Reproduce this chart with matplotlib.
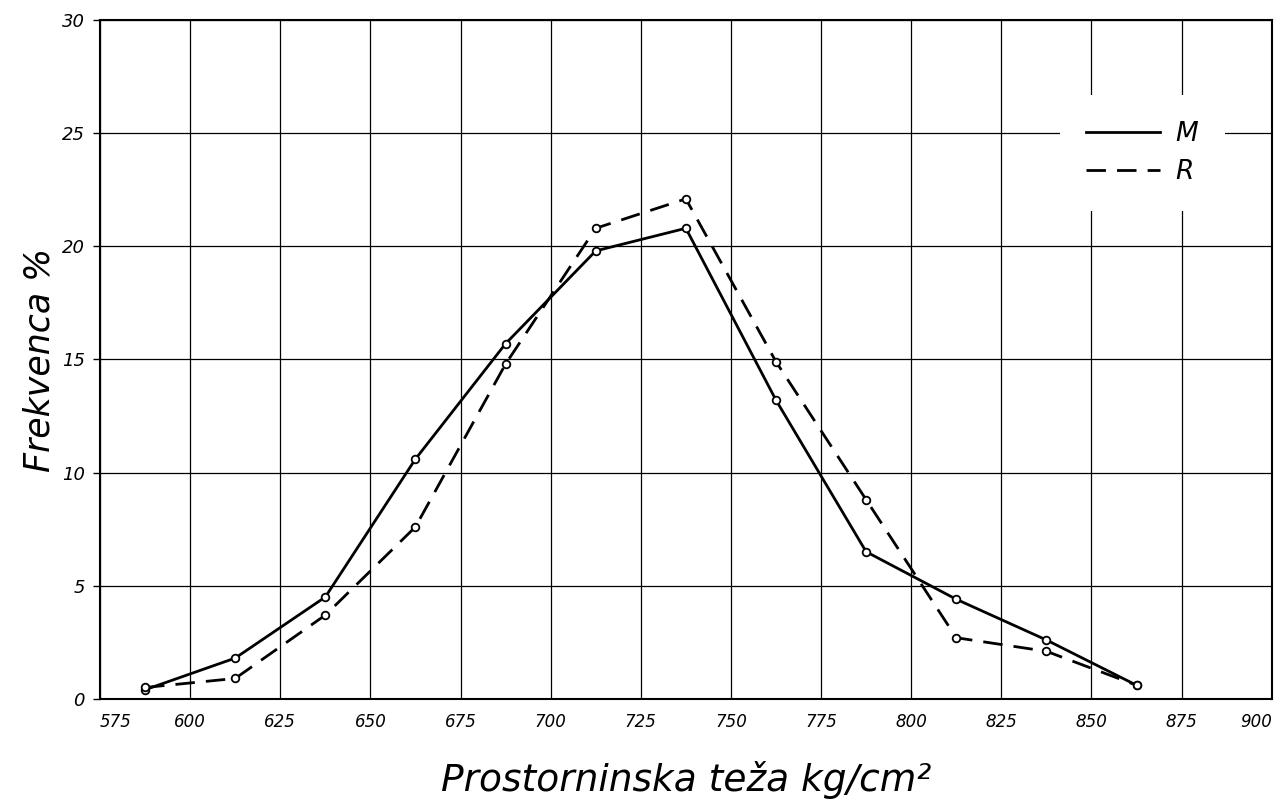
import matplotlib
matplotlib.use("Agg")
import matplotlib.pyplot as plt

# class midpoints (kg) and frequency in %
teza = [587.5, 612.5, 637.5, 662.5, 687.5, 712.5, 737.5, 762.5, 787.5, 812.5, 837.5, 862.5]
freq_M = [0.4, 1.8, 4.5, 10.6, 15.7, 19.8, 20.8, 13.2, 6.5, 4.4, 2.6, 0.6]
freq_R = [0.5, 0.9, 3.7, 7.6, 14.8, 20.8, 22.1, 14.9, 8.8, 2.7, 2.1, 0.6]

xticks = [575, 600, 625, 650, 675, 700, 725, 750, 775, 800, 825, 850, 875, 900]
yticks = [0, 5, 10, 15, 20, 25, 30]

plt.rcParams['font.family'] = ['DejaVu Sans']

fig = plt.figure(figsize=(12.82, 8.06), dpi=100)
ax = fig.add_axes([0.078, 0.133, 0.914, 0.842])

ax.plot(teza, freq_M, '-', color='black', lw=2.0, marker='o', ms=5.5,
        mfc='white', mec='black', mew=1.3, label='M')
ax.plot(teza, freq_R, color='black', lw=2.0, dashes=(7, 4), marker='o', ms=5.5,
        mfc='white', mec='black', mew=1.3, label='R')

ax.set_xlim(575, 900)
ax.set_ylim(0, 30)
ax.set_xticks(xticks)
ax.set_yticks(yticks)
ax.set_xticklabels([str(t) for t in xticks], fontstyle='italic', fontsize=12)
ax.set_yticklabels([str(t) for t in yticks], fontstyle='italic', fontsize=13)
xl = ax.get_xticklabels()
xl[0].set_horizontalalignment('left')
xl[-1].set_horizontalalignment('right')
ax.tick_params(axis='x', length=0, pad=10)
ax.tick_params(axis='y', length=5, width=1, pad=6)
ax.grid(True, color='black', lw=0.9)
for s in ax.spines.values():
    s.set_linewidth(1.5)

ax.set_xlabel('Prostorninska teža kg/cm²', fontstyle='italic', fontsize=27, labelpad=22)
ax.set_ylabel('Frekvenca %', fontstyle='italic', fontsize=25, labelpad=4)

leg = ax.legend(loc='upper right', bbox_to_anchor=(0.96, 0.89), handlelength=2.8,
                fontsize=19, frameon=True, fancybox=False, borderpad=1.0,
                handletextpad=0.6, labelspacing=0.45, borderaxespad=0)
leg.get_frame().set_edgecolor('none')
leg.get_frame().set_facecolor('white')
leg.get_frame().set_alpha(1)
for t in leg.get_texts():
    t.set_fontstyle('italic')
for h in leg.legend_handles:
    h.set_marker('')

fig.savefig('out.png', dpi=100)
